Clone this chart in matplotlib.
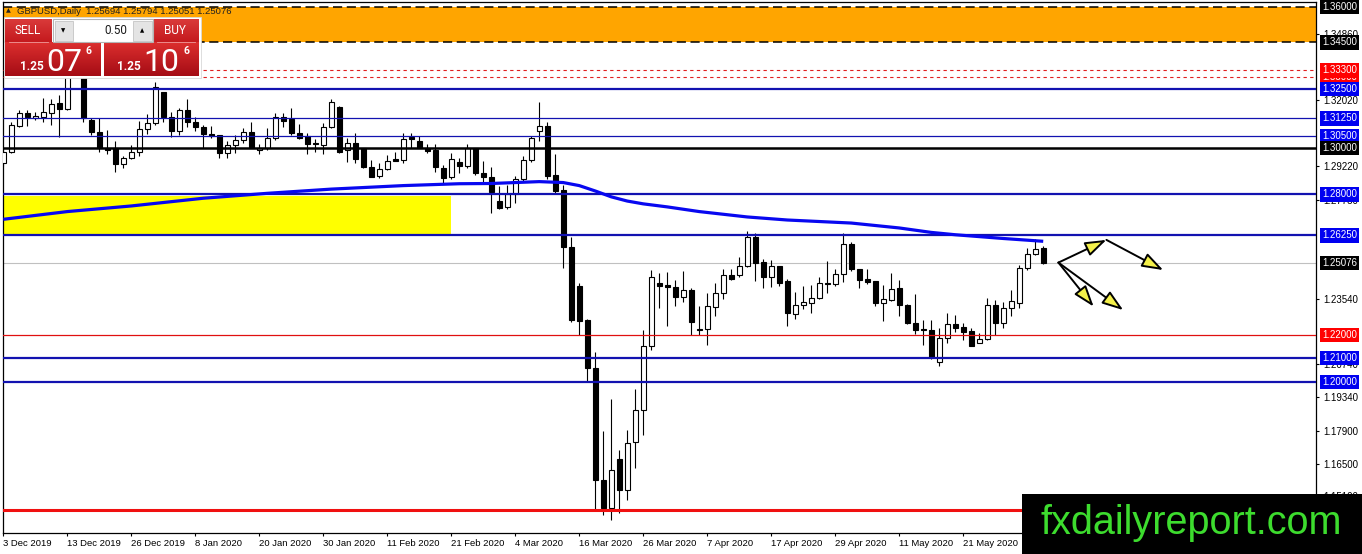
import matplotlib
matplotlib.use('Agg')
import matplotlib.pyplot as plt
from matplotlib.patches import Rectangle
from matplotlib.colors import LinearSegmentedColormap
import numpy as np

plt.rcParams['font.family'] = ['Liberation Sans', 'DejaVu Sans']

# --- data: GBPUSD daily candles ---
opens = [
    1.2933, 1.2983, 1.3094, 1.3147, 1.3125, 1.3133, 1.3150, 1.3190, 1.3164, 1.3330,
    1.3340, 1.3118, 1.3068, 1.3000, 1.3000, 1.2929, 1.2954, 1.2983, 1.3078, 1.3104,
    1.3237, 1.3130, 1.3073, 1.3161, 1.3111, 1.3087, 1.3057, 1.3054, 1.2979, 1.3011,
    1.3033, 1.3068, 1.2990, 1.3000, 1.3040, 1.3133, 1.3121, 1.3064, 1.3050, 1.3021,
    1.3011, 1.3087, 1.3172, 1.2990, 1.3021, 1.2997, 1.2919, 1.2879, 1.2909, 1.2950,
    1.2947, 1.3044, 1.3028, 1.3000, 1.2990, 1.2912, 1.2873, 1.2940, 1.2922, 1.2997,
    1.2890, 1.2876, 1.2772, 1.2745, 1.2802, 1.2865, 1.2947, 1.3073, 1.3093, 1.2883,
    1.2819, 1.2574, 1.2409, 1.2263, 1.2057, 1.1579, 1.1462, 1.1668, 1.1537, 1.1743,
    1.1881, 1.2152, 1.2423, 1.2412, 1.2406, 1.2363, 1.2392, 1.2225, 1.2224, 1.2320,
    1.2378, 1.2456, 1.2456, 1.2496, 1.2620, 1.2513, 1.2449, 1.2494, 1.2430, 1.2288,
    1.2326, 1.2335, 1.2356, 1.2423, 1.2417, 1.2460, 1.2588, 1.2480, 1.2437, 1.2430,
    1.2335, 1.2349, 1.2399, 1.2328, 1.2249, 1.2225, 1.2221, 1.2085, 1.2185, 1.2245,
    1.2232, 1.2216, 1.2167, 1.2181, 1.2328, 1.2252, 1.2313, 1.2338, 1.2484, 1.2544,
    1.25694]
highs = [
    1.2990, 1.3111, 1.3161, 1.3161, 1.3154, 1.3214, 1.3208, 1.3225, 1.3514, 1.3420,
    1.3360, 1.3125, 1.3125, 1.3076, 1.3028, 1.2966, 1.3011, 1.3115, 1.3142, 1.3282,
    1.3240, 1.3151, 1.3168, 1.3208, 1.3133, 1.3097, 1.3093, 1.3056, 1.3030, 1.3054,
    1.3083, 1.3111, 1.3016, 1.3083, 1.3147, 1.3147, 1.3171, 1.3100, 1.3061, 1.3036,
    1.3104, 1.3208, 1.3178, 1.3040, 1.3064, 1.2999, 1.2947, 1.2933, 1.2969, 1.2983,
    1.3064, 1.3064, 1.3050, 1.3016, 1.3016, 1.2926, 1.2976, 1.2954, 1.3016, 1.2999,
    1.2944, 1.2916, 1.2838, 1.2840, 1.2879, 1.2964, 1.3050, 1.3194, 1.3108, 1.2973,
    1.2840, 1.2620, 1.2423, 1.2266, 1.2128, 1.1790, 1.1928, 1.1710, 1.1793, 1.1967,
    1.2223, 1.2477, 1.2466, 1.2470, 1.2434, 1.2474, 1.2399, 1.2323, 1.2380, 1.2420,
    1.2480, 1.2480, 1.2534, 1.2644, 1.2634, 1.2523, 1.2520, 1.2496, 1.2437, 1.2385,
    1.2409, 1.2413, 1.2449, 1.2516, 1.2480, 1.2637, 1.2598, 1.2482, 1.2480, 1.2432,
    1.2413, 1.2466, 1.2435, 1.2330, 1.2375, 1.2263, 1.2263, 1.2228, 1.2292, 1.2285,
    1.2249, 1.2228, 1.2206, 1.2356, 1.2349, 1.2342, 1.2392, 1.2499, 1.2570, 1.2608,
    1.25794]
lows = [
    1.2920, 1.2976, 1.3090, 1.3093, 1.3120, 1.3111, 1.3097, 1.3047, 1.3160, 1.3310,
    1.3110, 1.3054, 1.2983, 1.2973, 1.2897, 1.2915, 1.2950, 1.2964, 1.3057, 1.3097,
    1.3108, 1.3044, 1.3054, 1.3087, 1.3073, 1.3000, 1.3040, 1.2954, 1.2954, 1.2979,
    1.3021, 1.2997, 1.2973, 1.2990, 1.3033, 1.3090, 1.3054, 1.3036, 1.2973, 1.2983,
    1.2973, 1.3083, 1.2976, 1.2937, 1.2933, 1.2912, 1.2873, 1.2869, 1.2905, 1.2943,
    1.2933, 1.2997, 1.2997, 1.2979, 1.2897, 1.2848, 1.2865, 1.2890, 1.2912, 1.2883,
    1.2855, 1.2719, 1.2736, 1.2736, 1.2765, 1.2855, 1.2940, 1.3030, 1.2865, 1.2802,
    1.2484, 1.2256, 1.2199, 1.2000, 1.1451, 1.1430, 1.1408, 1.1440, 1.1494, 1.1633,
    1.1772, 1.2135, 1.2313, 1.2238, 1.2323, 1.2342, 1.2198, 1.2199, 1.2157, 1.2281,
    1.2353, 1.2435, 1.2449, 1.2489, 1.2432, 1.2402, 1.2406, 1.2409, 1.2238, 1.2268,
    1.2309, 1.2292, 1.2352, 1.2380, 1.2409, 1.2427, 1.2474, 1.2399, 1.2416, 1.2323,
    1.2261, 1.2345, 1.2281, 1.2245, 1.2204, 1.2157, 1.2095, 1.2067, 1.2164, 1.2214,
    1.2178, 1.2154, 1.2164, 1.2178, 1.2199, 1.2228, 1.2282, 1.2316, 1.2477, 1.2541,
    1.25051]
closes = [
    1.2983, 1.3097, 1.3147, 1.3130, 1.3135, 1.3151, 1.3187, 1.3164, 1.3330, 1.3340,
    1.3125, 1.3068, 1.3000, 1.2990, 1.2929, 1.2954, 1.2983, 1.3078, 1.3104, 1.3258,
    1.3130, 1.3073, 1.3161, 1.3111, 1.3087, 1.3057, 1.3051, 1.2979, 1.3011, 1.3033,
    1.3068, 1.3000, 1.3000, 1.3043, 1.3130, 1.3115, 1.3064, 1.3043, 1.3016, 1.3016,
    1.3087, 1.3194, 1.2983, 1.3021, 1.2950, 1.2919, 1.2875, 1.2907, 1.2943, 1.2944,
    1.3036, 1.3036, 1.3000, 1.2987, 1.2919, 1.2869, 1.2950, 1.2922, 1.2997, 1.2890,
    1.2876, 1.2809, 1.2741, 1.2802, 1.2865, 1.2947, 1.3040, 1.3093, 1.2879, 1.2816,
    1.2574, 1.2263, 1.2260, 1.2057, 1.1579, 1.1462, 1.1622, 1.1537, 1.1739, 1.1881,
    1.2152, 1.2446, 1.2409, 1.2405, 1.2363, 1.2392, 1.2256, 1.2222, 1.2323, 1.2378,
    1.2456, 1.2439, 1.2494, 1.2617, 1.2509, 1.2449, 1.2494, 1.2423, 1.2292, 1.2328,
    1.2339, 1.2356, 1.2423, 1.2417, 1.2460, 1.2588, 1.2482, 1.2435, 1.2427, 1.2335,
    1.2352, 1.2395, 1.2328, 1.2249, 1.2221, 1.2221, 1.2104, 1.2185, 1.2245, 1.2228,
    1.2214, 1.2154, 1.2182, 1.2328, 1.2252, 1.2316, 1.2345, 1.2484, 1.2544, 1.2566,
    1.25076]

# moving average (read at sample bars)
ma_bars = [0, 8, 16, 25, 33, 41, 50, 57, 61, 67, 70, 72, 74, 76, 78, 80, 83, 87,
           93, 98, 106, 112, 116, 119, 125, 130]
ma_values = [1.2694, 1.2727, 1.2751, 1.2784, 1.2805, 1.2823, 1.2838, 1.2846, 1.2847,
             1.2855, 1.2851, 1.2838, 1.2815, 1.2790, 1.2772, 1.2760, 1.2747, 1.2727,
             1.2704, 1.2691, 1.2678, 1.2657, 1.2638, 1.2628, 1.2612, 1.2600]

date_bars = [0, 8, 16, 24, 32, 40, 48, 56, 64, 72, 80, 88, 96, 104, 112, 120]
date_labels = ['3 Dec 2019', '13 Dec 2019', '26 Dec 2019', '8 Jan 2020', '20 Jan 2020',
               '30 Jan 2020', '11 Feb 2020', '21 Feb 2020', '4 Mar 2020', '16 Mar 2020',
               '26 Mar 2020', '7 Apr 2020', '17 Apr 2020', '29 Apr 2020', '11 May 2020',
               '21 May 2020']

price_ticks = [1.3486, 1.3202, 1.2922, 1.2778, 1.2354, 1.2074, 1.1934, 1.1790, 1.1650, 1.1510]

# horizontal levels drawn on the chart
blue_thick_levels = [1.3250, 1.2800, 1.2625, 1.2100, 1.2000]
blue_thin_levels = [1.3125, 1.3050]
red_dashed_levels = [1.3330, 1.3300]
red_thin_levels = [1.2200]
black_levels = [1.3000]
bottom_level = 1.1452
last_price = 1.25076
supply_zone = [1.3450, 1.3600]
demand_zone = [1.2631, 1.2795]
demand_zone_bars = [-0.5, 56]

# right-axis price tags (value, kind) in drawing order
tag_values = [1.3600, 1.3450, 1.3300, 1.3330, 1.3250, 1.3125, 1.3050, 1.3000,
              1.2800, 1.2625, 1.25076, 1.2200, 1.2100, 1.2000]
tag_kinds = ['black', 'black', 'red', 'red', 'blue', 'blue', 'blue', 'black',
             'blue', 'blue', 'black', 'red', 'blue', 'blue']

# scenario arrows
arrow_x0 = [131.9, 137.9, 131.9, 131.9]
arrow_y0 = [1.2509, 1.2606, 1.2509, 1.2509]
arrow_x1 = [137.9, 145.0, 136.3, 140.0]
arrow_y1 = [1.2606, 1.2477, 1.2321, 1.2306]

title_text = 'GBPUSD,Daily  1.25694 1.25794 1.25051 1.25076'

# --- colours ---
LINE_BLUE = '#1212b0'
TAG_BLUE = '#0000f0'
TAG_RED = '#ff0000'
MA_BLUE = '#0808f0'
tag_colors = {'black': 'black', 'red': TAG_RED, 'blue': TAG_BLUE}

W, H = 1362, 554
fig = plt.figure(figsize=(W / 100, H / 100), dpi=100)
ax = fig.add_axes([2.7 / W, 21.3 / H, (1316 - 2.7) / W, (532.7 - 2) / H])
ax.set_xlim(-0.075, 164.1)
ax.set_ylim(1.13547, 1.36226)

# zones
ax.axhspan(supply_zone[0], supply_zone[1], color='#ffa500', lw=0, zorder=0.5)
for v in supply_zone:
    ax.axhline(v, color='black', lw=1.1, ls=(0, (6, 3)), zorder=0.6)
ax.fill_between(demand_zone_bars, demand_zone[0], demand_zone[1], color='#ffff00', lw=0, zorder=0.5)

# candles
x = np.arange(len(opens))
o = np.array(opens)
h = np.array(highs)
l = np.array(lows)
c = np.array(closes)
up = c >= o
ax.vlines(x, l, h, color='black', lw=0.8, zorder=3)
ax.bar(x[up], (c - o)[up], bottom=o[up], width=0.62, facecolor='white',
       edgecolor='black', lw=0.8, zorder=3.1)
ax.bar(x[~up], (o - c)[~up], bottom=c[~up], width=0.62, facecolor='black',
       edgecolor='black', lw=0.8, zorder=3.1)

# levels
for v in blue_thick_levels:
    ax.axhline(v, color=LINE_BLUE, lw=1.6, zorder=3.5)
for v in blue_thin_levels:
    ax.axhline(v, color=LINE_BLUE, lw=0.9, zorder=3.5)
for v in red_dashed_levels:
    ax.axhline(v, color='#e02020', lw=0.8, ls=(0, (3, 3)), zorder=3.5)
for v in red_thin_levels:
    ax.axhline(v, color='#e01010', lw=0.9, zorder=3.5)
for v in black_levels:
    ax.axhline(v, color='black', lw=1.8, zorder=3.5)
ax.axhline(bottom_level, color='#f01010', lw=2.2, zorder=3.5)
ax.axhline(last_price, color='#c0c0c0', lw=0.8, zorder=2.5)

# moving average
ax.plot(ma_bars, ma_values, color=MA_BLUE, lw=2.3, zorder=4, solid_capstyle='butt')

# arrows
for x0, y0, x1, y1 in zip(arrow_x0, arrow_y0, arrow_x1, arrow_y1):
    ax.annotate('', xy=(x1, y1), xytext=(x0, y0),
                arrowprops=dict(arrowstyle='-|>,head_length=1.3,head_width=0.45',
                                fc='#f4f04a', ec='black', lw=1.4,
                                shrinkA=0, shrinkB=0), zorder=5)

# axes styling
for side in ['left', 'top', 'right', 'bottom']:
    ax.spines[side].set_color('black')
    ax.spines[side].set_linewidth(0.9)
ax.yaxis.tick_right()
ax.set_yticks(price_ticks)
ax.set_yticklabels([f'{v:.5f}' for v in price_ticks])
ax.tick_params(axis='y', length=2.2, width=0.8, pad=2.8, labelsize=7, colors='black')
ax.set_xticks(date_bars)
ax.set_xticklabels(date_labels, ha='left')
ax.tick_params(axis='x', length=2.2, width=0.8, pad=2.0, labelsize=6.8, colors='black')

# price tags on the right axis
for v, kind in zip(tag_values, tag_kinds):
    ax.annotate(f'{v:.5f}', xy=(1, v), xycoords=ax.get_yaxis_transform(),
                xytext=(4.3, 0), textcoords='offset points', ha='left', va='center',
                fontsize=7, color='white', annotation_clip=False, zorder=6,
                bbox=dict(boxstyle='square,pad=0.22', fc=tag_colors[kind], ec='none'))

# --- overlay in pixel coordinates: title, trade panel, watermark ---
ov = fig.add_axes([0, 0, 1, 1], zorder=10)
ov.set_axis_off()
ov.set_autoscale_on(False)
ov.set_xlim(0, W)
ov.set_ylim(H, 0)


def grad_box(x0, x1, y0, y1, top, bottom):
    cmap = LinearSegmentedColormap.from_list('g', [top, bottom])
    ov.imshow(np.linspace(0, 1, 32).reshape(-1, 1), extent=(x0, x1, y1, y0),
              cmap=cmap, aspect='auto', zorder=2, interpolation='bilinear')


ov.text(8, 11, '\u25b2', fontsize=4.5, color='#202020', ha='center', va='center',
        family='DejaVu Sans')
ov.text(17, 11, title_text, fontsize=6.8, color='#202020', ha='left', va='center')

ov.add_patch(Rectangle((3.5, 17), 197.5, 61, fc='white', ec='#d8d8d8', lw=0.6, zorder=1))
grad_box(5, 52, 19, 42, '#da3a3a', '#c41a1e')
grad_box(153, 199, 19, 42, '#da3a3a', '#c41a1e')
grad_box(5, 101, 42, 76, '#dc2e2e', '#a50d15')
grad_box(104, 199, 42, 76, '#dc2e2e', '#a50d15')
ov.plot([9, 48], [41.5, 41.5], color='#ee9a9a', lw=0.6, zorder=3)
ov.plot([157, 195], [41.5, 41.5], color='#ee9a9a', lw=0.6, zorder=3)
ov.add_patch(Rectangle((53, 19), 100, 23, fc='white', ec='#b4b4b4', lw=0.8, zorder=2))
ov.add_patch(Rectangle((54.5, 20.5), 18, 20, fc='#e4e4e4', ec='#c4c4c4', lw=0.6, zorder=3))
ov.add_patch(Rectangle((132.5, 20.5), 19, 20, fc='#e4e4e4', ec='#c4c4c4', lw=0.6, zorder=3))
ov.text(63.5, 30.5, '\u25bc', fontsize=4, ha='center', va='center', family='DejaVu Sans', zorder=4)
ov.text(142, 30.5, '\u25b2', fontsize=4, ha='center', va='center', family='DejaVu Sans', zorder=4)
ov.text(127.5, 30.5, '0.50', fontsize=8.5, ha='right', va='center', color='#1a1a1a',
        family='Roboto', zorder=4)
ov.text(27.5, 30.5, 'SELL', fontsize=8.5, ha='center', va='center', color='white',
        family='Roboto', zorder=4)
ov.text(175, 30.5, 'BUY', fontsize=8.5, ha='center', va='center', color='white',
        family='Roboto', zorder=4)
for bx, big in [(0, '07'), (97, '10')]:
    ov.text(20 + bx, 70, '1.25', fontsize=8.5, weight='bold', ha='left', va='baseline',
            color='white', family='Roboto', zorder=4)
    ov.text(46 + bx, 71, big, fontsize=23, ha='left', va='baseline', color='white',
            family='Roboto', zorder=4)
    ov.text(86 + bx, 46, '6', fontsize=7.5, weight='bold', ha='left', va='top',
            color='white', family='Roboto', zorder=4)

ov.add_patch(Rectangle((1022, 494), 340, 60, fc='black', ec='none', zorder=5))
ov.text(1191, 534, 'fxdailyreport.com', fontsize=28.5, ha='center', va='baseline',
        color='#3ddc2e', zorder=6)

fig.savefig('out.png', dpi=100)
